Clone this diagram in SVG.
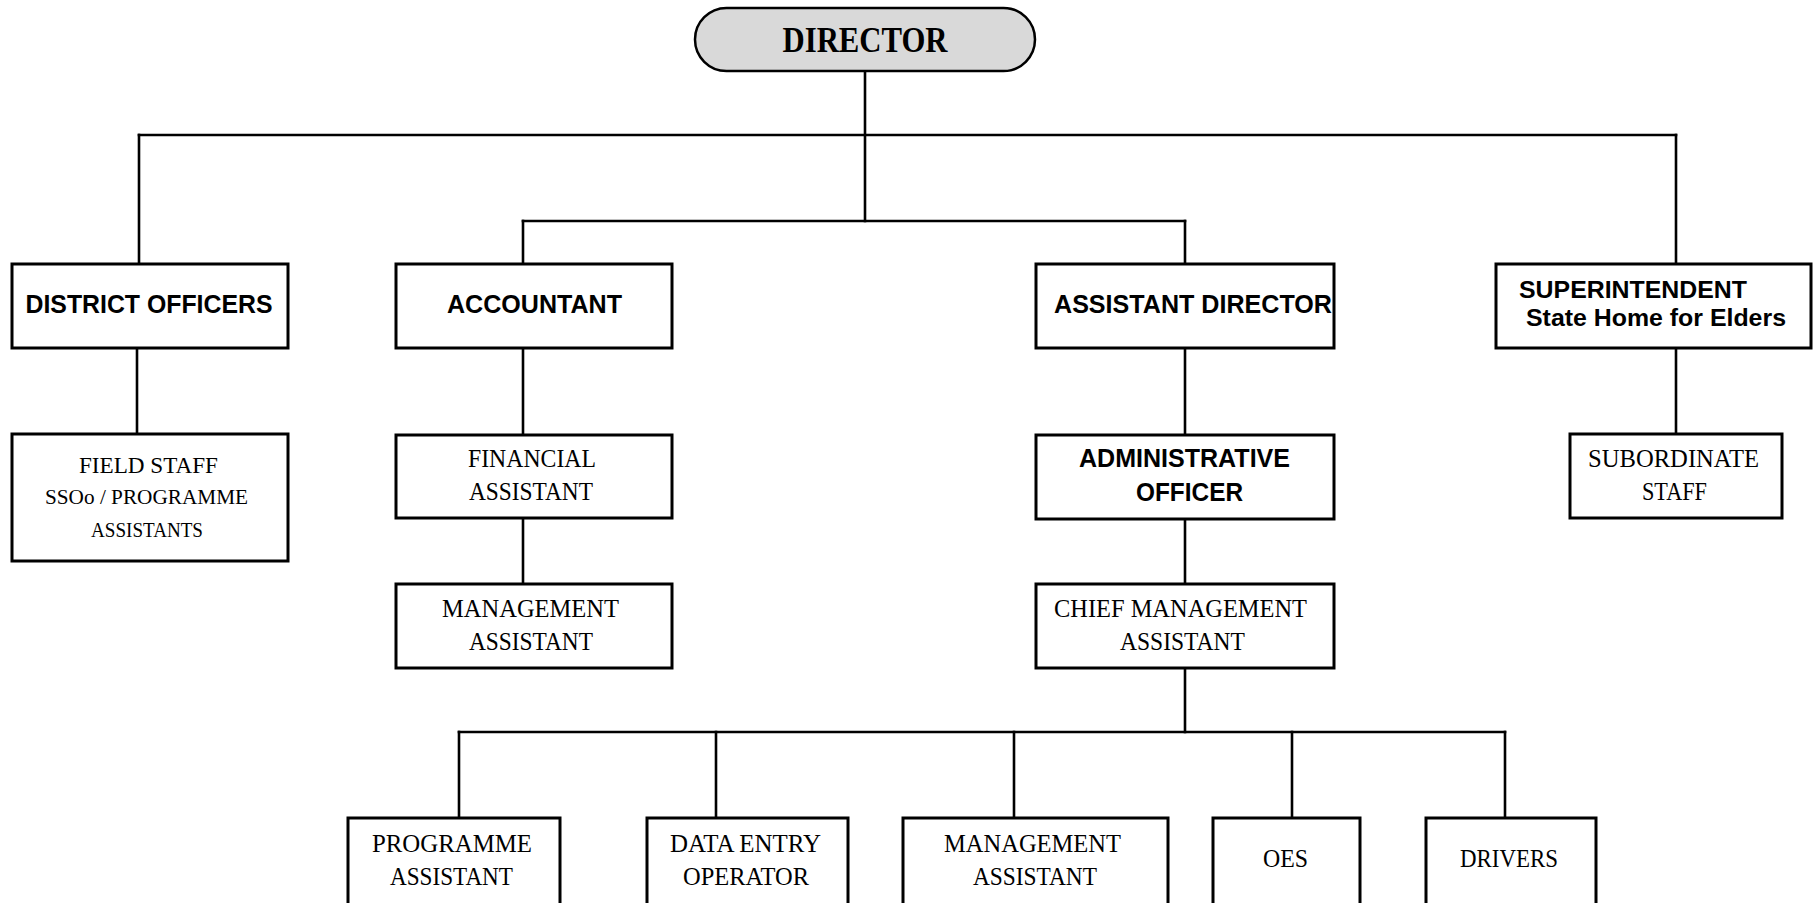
<svg xmlns="http://www.w3.org/2000/svg" width="1817" height="903" viewBox="0 0 1817 903">
  <style>
    .box { fill: #ffffff; stroke: #000000; stroke-width: 3; }
    .head { fill: #d9d9d9; stroke: #000000; stroke-width: 2.5; }
    .link { fill: none; stroke: #000000; stroke-width: 2.6; stroke-linecap: square; }
    .serif { font-family: "Liberation Serif", "Times New Roman", serif; fill: #000000; text-anchor: middle; }
    .sans { font-family: "Liberation Sans", Arial, sans-serif; font-weight: bold; fill: #000000; text-anchor: middle; }
  </style>
  <rect width="1817" height="903" fill="#ffffff"/>

  <!-- connectors -->
  <g id="connectors" class="link">
    <path d="M865 71 V221"/>
    <path d="M139 135 H1676"/>
    <path d="M139 135 V264"/>
    <path d="M1676 135 V264"/>
    <path d="M523 221 H1185"/>
    <path d="M523 221 V269"/>
    <path d="M1185 221 V264"/>
    <path d="M137 349 V434"/>
    <path d="M523 349 V435"/>
    <path d="M523 519 V584"/>
    <path d="M1185 349 V435"/>
    <path d="M1185 520 V584"/>
    <path d="M1185 669 V732"/>
    <path d="M1676 349 V434"/>
    <path d="M459 732 H1505"/>
    <path d="M459 732 V818"/>
    <path d="M716 732 V818"/>
    <path d="M1014 732 V818"/>
    <path d="M1292 732 V818"/>
    <path d="M1505 732 V818"/>
  </g>

  <g id="director">
    <rect class="head" x="695" y="8" width="340" height="63" rx="31.5" ry="31.5"/>
    <text class="serif" x="865" y="52" font-size="35" font-weight="bold" textLength="165" lengthAdjust="spacingAndGlyphs">DIRECTOR</text>
  </g>

  <g id="district-officers">
    <rect class="box" x="12" y="264" width="276" height="84"/>
    <text class="sans" x="149" y="313" font-size="25" textLength="247" lengthAdjust="spacingAndGlyphs">DISTRICT OFFICERS</text>
  </g>

  <g id="field-staff">
    <rect class="box" x="12" y="434" width="276" height="127"/>
    <text class="serif" x="148.5" y="473" font-size="24" textLength="139" lengthAdjust="spacingAndGlyphs">FIELD STAFF</text>
    <text class="serif" x="146.5" y="504" font-size="20" textLength="203" lengthAdjust="spacingAndGlyphs">SSOo  /  PROGRAMME</text>
    <text class="serif" x="147" y="537" font-size="20" textLength="112" lengthAdjust="spacingAndGlyphs">ASSISTANTS</text>
  </g>

  <g id="accountant">
    <rect class="box" x="396" y="264" width="276" height="84"/>
    <text class="sans" x="534.5" y="313" font-size="25" textLength="175" lengthAdjust="spacingAndGlyphs">ACCOUNTANT</text>
  </g>

  <g id="financial-assistant">
    <rect class="box" x="396" y="435" width="276" height="83"/>
    <text class="serif" x="532" y="467" font-size="25" textLength="128" lengthAdjust="spacingAndGlyphs">FINANCIAL</text>
    <text class="serif" x="531" y="500" font-size="25" textLength="124" lengthAdjust="spacingAndGlyphs">ASSISTANT</text>
  </g>

  <g id="management-assistant-accounts">
    <rect class="box" x="396" y="584" width="276" height="84"/>
    <text class="serif" x="530.5" y="617" font-size="25" textLength="177" lengthAdjust="spacingAndGlyphs">MANAGEMENT</text>
    <text class="serif" x="531" y="650" font-size="25" textLength="124" lengthAdjust="spacingAndGlyphs">ASSISTANT</text>
  </g>

  <g id="assistant-director">
    <rect class="box" x="1036" y="264" width="298" height="84"/>
    <text class="sans" x="1193" y="313" font-size="25" textLength="278" lengthAdjust="spacingAndGlyphs">ASSISTANT DIRECTOR</text>
  </g>

  <g id="administrative-officer">
    <rect class="box" x="1036" y="435" width="298" height="84"/>
    <text class="sans" x="1184.5" y="467" font-size="25" textLength="211" lengthAdjust="spacingAndGlyphs">ADMINISTRATIVE</text>
    <text class="sans" x="1189.5" y="501" font-size="25" textLength="107" lengthAdjust="spacingAndGlyphs">OFFICER</text>
  </g>

  <g id="chief-management-assistant">
    <rect class="box" x="1036" y="584" width="298" height="84"/>
    <text class="serif" x="1180.5" y="617" font-size="25" textLength="253" lengthAdjust="spacingAndGlyphs">CHIEF MANAGEMENT</text>
    <text class="serif" x="1182.5" y="650" font-size="25" textLength="125" lengthAdjust="spacingAndGlyphs">ASSISTANT</text>
  </g>

  <g id="superintendent">
    <rect class="box" x="1496" y="264" width="315" height="84"/>
    <text class="sans" x="1633" y="298" font-size="24.5" textLength="228" lengthAdjust="spacingAndGlyphs">SUPERINTENDENT</text>
    <text class="sans" x="1656" y="326" font-size="24.5" textLength="260" lengthAdjust="spacingAndGlyphs">State Home for Elders</text>
  </g>

  <g id="subordinate-staff">
    <rect class="box" x="1570" y="434" width="212" height="84"/>
    <text class="serif" x="1673.5" y="467" font-size="25" textLength="171" lengthAdjust="spacingAndGlyphs">SUBORDINATE</text>
    <text class="serif" x="1674.5" y="500" font-size="25" textLength="65" lengthAdjust="spacingAndGlyphs">STAFF</text>
  </g>

  <g id="programme-assistant">
    <rect class="box" x="348" y="818" width="212" height="100"/>
    <text class="serif" x="452" y="852" font-size="25" textLength="160" lengthAdjust="spacingAndGlyphs">PROGRAMME</text>
    <text class="serif" x="451.5" y="885" font-size="25" textLength="123" lengthAdjust="spacingAndGlyphs">ASSISTANT</text>
  </g>

  <g id="data-entry-operator">
    <rect class="box" x="647" y="818" width="201" height="100"/>
    <text class="serif" x="745.5" y="852" font-size="25" textLength="151" lengthAdjust="spacingAndGlyphs">DATA ENTRY</text>
    <text class="serif" x="746" y="885" font-size="25" textLength="126" lengthAdjust="spacingAndGlyphs">OPERATOR</text>
  </g>

  <g id="management-assistant-admin">
    <rect class="box" x="903" y="818" width="265" height="100"/>
    <text class="serif" x="1032.5" y="852" font-size="25" textLength="177" lengthAdjust="spacingAndGlyphs">MANAGEMENT</text>
    <text class="serif" x="1035" y="885" font-size="25" textLength="124" lengthAdjust="spacingAndGlyphs">ASSISTANT</text>
  </g>

  <g id="oes">
    <rect class="box" x="1213" y="818" width="147" height="100"/>
    <text class="serif" x="1285.5" y="867" font-size="25" textLength="45" lengthAdjust="spacingAndGlyphs">OES</text>
  </g>

  <g id="drivers">
    <rect class="box" x="1426" y="818" width="170" height="100"/>
    <text class="serif" x="1509" y="867" font-size="25" textLength="98" lengthAdjust="spacingAndGlyphs">DRIVERS</text>
  </g>
</svg>
